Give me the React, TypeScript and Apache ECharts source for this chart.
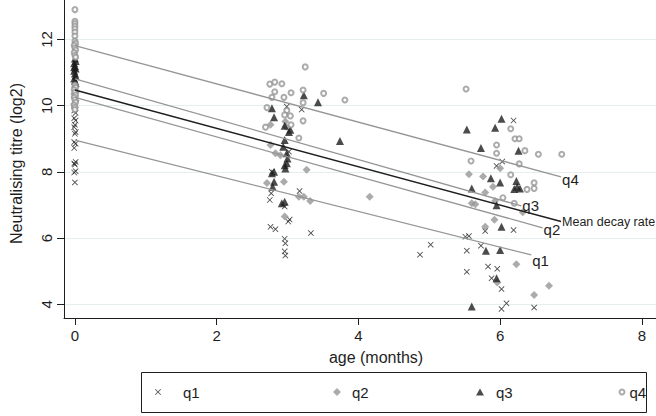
import React, { useEffect, useRef } from "react";
import * as echarts from "echarts";

// ---- data ----
const groupNames = ["q1", "q2", "q3", "q4"];

const q1Points = [
  [-0.01, 9.85], [0.01, 9.78], [-0.01, 9.62], [0.01, 9.55], [0, 9.42], [-0.01, 9.35], [0.01, 9.2], [0, 9.15],
  [-0.01, 8.9], [0.01, 8.85], [-0.01, 8.72], [0.01, 8.3], [-0.01, 8.25], [0, 8.22], [0.01, 8.02], [-0.01, 7.98], [0, 7.68],
  [2.99, 9.97], [3.2, 9.88], [3.02, 8.61], [2.78, 8.0], [2.75, 7.15], [2.77, 7.35], [3.17, 7.42], [2.96, 6.95],
  [3.01, 6.5], [3.03, 6.56], [2.76, 6.34], [2.83, 6.27], [3.33, 6.15], [2.96, 5.98], [2.97, 5.84], [2.96, 5.6], [2.97, 5.47],
  [4.87, 5.5], [5.02, 5.8],
  [6.19, 9.55], [6.03, 8.31], [5.95, 8.18], [5.79, 6.21], [6.19, 6.24], [5.51, 6.04], [5.56, 6.06], [5.53, 5.62],
  [5.73, 5.77], [5.53, 4.98], [5.83, 5.14], [5.96, 5.07], [5.88, 4.79], [6.02, 4.46], [6.09, 4.03], [6.02, 3.86], [6.48, 3.9],
];

const q2Points = [
  [0, 10.55], [0.01, 10.45], [-0.01, 10.35], [0, 10.25], [0.01, 10.15], [-0.01, 10.05], [0, 9.95], [0.01, 10.4],
  [2.76, 9.42], [2.97, 9.52], [2.98, 9.36], [2.76, 8.81], [2.83, 8.56], [2.9, 8.5], [3.27, 8.06], [2.71, 7.66],
  [2.95, 7.7], [3.16, 7.25], [3.23, 7.25], [3.32, 7.12], [2.96, 6.65], [4.16, 7.25],
  [5.56, 7.93], [5.76, 7.86], [6.0, 8.11], [5.9, 7.55], [5.6, 7.05], [5.65, 7.02], [5.79, 7.38], [5.93, 7.12],
  [6.32, 6.78], [5.92, 6.55], [5.79, 6.34], [6.23, 5.21], [5.96, 4.66], [6.69, 4.56], [6.48, 4.28],
];

const q3Points = [
  [0, 11.42], [0.01, 11.35], [-0.01, 11.28], [0, 11.2], [0.01, 11.12], [-0.01, 11.05], [0, 10.97], [0.01, 10.9],
  [-0.01, 10.82], [0, 10.75], [0.01, 10.68], [-0.01, 11.16],
  [3.23, 10.31], [3.43, 10.1], [2.78, 9.92], [2.81, 9.65], [2.96, 9.39], [3.04, 9.27], [3.02, 9.2], [3.74, 8.93],
  [2.96, 8.96], [2.94, 8.76], [2.99, 8.56], [3.0, 8.4], [2.96, 8.2], [2.99, 8.26], [2.97, 8.1], [2.81, 8.0],
  [2.78, 7.96], [2.81, 7.7], [2.79, 7.55], [2.92, 7.05], [2.96, 7.1],
  [6.02, 9.6], [5.53, 9.28], [5.93, 9.33], [5.73, 8.72], [6.26, 8.64], [5.87, 7.81], [6.0, 7.68], [6.23, 7.72],
  [6.24, 7.55], [6.28, 7.5], [6.2, 7.48], [5.6, 7.5], [5.95, 6.99], [6.02, 6.34], [5.8, 5.62], [6.0, 5.64],
  [5.95, 4.79], [5.6, 3.93],
];

const q4Points = [
  [0, 12.9], [0, 12.55], [0, 12.48], [0, 12.4], [0, 12.32], [0, 12.22], [0, 12.1], [0, 11.95], [0.01, 11.88],
  [-0.01, 11.82], [0, 11.75], [0.01, 11.68], [-0.01, 11.6], [0, 11.52], [0.01, 11.46], [0, 10.62], [0.01, 10.55],
  [-0.01, 10.48], [0, 10.4], [0.01, 10.32], [-0.01, 10.25], [0, 10.18], [0.01, 10.1], [-0.01, 10.02], [0, 9.95], [0, 9.88],
  [3.25, 11.17], [2.75, 10.65], [2.82, 10.71], [2.92, 10.66], [2.82, 10.42], [3.05, 10.39], [3.22, 10.47], [3.22, 10.09],
  [2.95, 10.25], [2.78, 10.25], [3.51, 10.37], [3.81, 10.17], [2.71, 9.94], [2.99, 9.85], [2.96, 9.72], [3.04, 9.69],
  [3.22, 9.54], [2.69, 9.35], [3.05, 9.42], [3.16, 9.02],
  [5.52, 10.5], [6.15, 9.3], [6.21, 9.0], [6.27, 9.0], [5.95, 8.81], [5.95, 8.56], [6.35, 8.64], [6.54, 8.53],
  [6.87, 8.53], [5.59, 8.33], [6.27, 8.24], [6.15, 7.91], [6.48, 7.67], [6.48, 7.5], [6.38, 7.47], [6.2, 7.05], [6.04, 7.22],
];

// fitted decay lines: [start, end]
const lineQ4 = [[0, 11.81], [6.86, 7.85]];
const lineQ3 = [[0, 10.81], [6.3, 6.97]];
const lineMean = [[0, 10.47], [6.86, 6.5]];
const lineQ2 = [[0, 10.25], [6.6, 6.31]];
const lineQ1 = [[0, 8.96], [6.44, 5.49]];
const lineLabels = ["q4", "q3", "Mean decay rate", "q2", "q1"];

const xTicks = [0, 2, 4, 6, 8];
const yTicks = [4, 6, 8, 10, 12];
const xTitle = "age (months)";
const yTitle = "Neutralising titre (log2)";

// ---- styles ----
const FONT = "'Liberation Sans', Arial, sans-serif";
const DARK = "#1e1e1e";
const GREY = "#969696";
const CROSS = "path://M1,0L5,4L9,0L10,1L6,5L10,9L9,10L5,6L1,10L0,9L4,5L0,1Z";
const DIAMOND = "path://M5,0L10,5L5,10L0,5Z";
const TRIANGLE = "path://M5,0L10,8.66L0,8.66Z";

export default function App() {
  const ref = useRef<HTMLDivElement>(null);

  useEffect(() => {
    if (!ref.current) return;
    const chart = echarts.init(ref.current, undefined, { renderer: "svg" });

    const lineSeries = (data: number[][], label: string, color: string, width: number, fontSize: number, offset: number[]) => ({
      type: "line",
      name: label + " line",
      data,
      symbol: "none",
      silent: true,
      lineStyle: { color, width },
      z: 3,
      endLabel: {
        show: true,
        formatter: label,
        color: DARK,
        fontSize,
        fontFamily: FONT,
        distance: 1,
        offset,
      },
    });

    const legendItem = (name: string, left: number, size: number, padLeft: number) => ({
      data: [name],
      left,
      top: 383,
      padding: 0,
      itemWidth: size,
      itemHeight: size,
      selectedMode: false,
      symbolKeepAspect: true,
      textStyle: { fontSize: 15, color: DARK, fontFamily: FONT, lineHeight: 18, padding: [0, 0, 0, padLeft] },
    });

    chart.setOption({
      animation: false,
      backgroundColor: "#ffffff",
      textStyle: { fontFamily: FONT },
      grid: { left: 58, right: 0, top: 0, bottom: 98 },
      xAxis: {
        type: "value",
        min: -0.154,
        max: 8.2,
        name: xTitle,
        nameLocation: "middle",
        nameGap: 31,
        nameTextStyle: { fontSize: 16, color: DARK, fontFamily: FONT, padding: [0, 0, 0, 32] },
        axisLine: { show: true, onZero: false, lineStyle: { color: DARK, width: 1 } },
        axisTick: { show: true, length: 7, customValues: xTicks, lineStyle: { color: DARK } },
        axisLabel: { customValues: xTicks, fontSize: 15, color: DARK, margin: 10, fontFamily: FONT },
        splitLine: { show: false },
      },
      yAxis: {
        type: "value",
        min: 3.586,
        max: 13.19,
        name: yTitle,
        nameLocation: "middle",
        nameGap: 40,
        nameTextStyle: { fontSize: 16, color: DARK, fontFamily: FONT, padding: [0, 9, 0, 0] },
        axisLine: { show: true, onZero: false, lineStyle: { color: DARK, width: 1 } },
        axisTick: { show: true, length: 7, customValues: yTicks, lineStyle: { color: DARK } },
        axisLabel: { customValues: yTicks, rotate: 90, fontSize: 15, color: DARK, margin: 10, fontFamily: FONT },
        splitLine: { show: true, lineStyle: { color: "#e6eff0", width: 1 } },
      },
      legend: [
        legendItem(groupNames[0], 155, 6, 17),
        legendItem(groupNames[1], 333, 8, 6),
        legendItem(groupNames[2], 476, 8, 7),
        legendItem(groupNames[3], 618.5, 5, 0),
      ],
      graphic: [
        {
          type: "rect",
          shape: { x: 141.5, y: 372.5, width: 505, height: 40 },
          style: { fill: "none", stroke: DARK, lineWidth: 1 },
          silent: true,
        },
      ],
      series: [
        { type: "scatter", name: groupNames[0], data: q1Points, symbol: CROSS, symbolSize: 6, itemStyle: { color: DARK }, z: 2 },
        { type: "scatter", name: groupNames[1], data: q2Points, symbol: DIAMOND, symbolSize: 8, itemStyle: { color: GREY }, z: 2 },
        { type: "scatter", name: groupNames[2], data: q3Points, symbol: TRIANGLE, symbolSize: 8, itemStyle: { color: DARK }, z: 2 },
        {
          type: "scatter", name: groupNames[3], data: q4Points, symbol: "emptyCircle", symbolSize: 5,
          itemStyle: { color: GREY, borderColor: GREY, borderWidth: 1.1 }, z: 2,
        },
        lineSeries(lineQ4, lineLabels[0], GREY, 1.3, 15, [0, 3]),
        lineSeries(lineQ3, lineLabels[1], GREY, 1.3, 15, [0, 0]),
        lineSeries(lineMean, lineLabels[2], DARK, 1.5, 12.5, [0, 0]),
        lineSeries(lineQ2, lineLabels[3], GREY, 1.3, 15, [0, 2]),
        lineSeries(lineQ1, lineLabels[4], GREY, 1.3, 15, [0, 6]),
      ],
    });

    return () => chart.dispose();
  }, []);

  return (
    <div
      ref={ref}
      style={{ position: "absolute", left: 0, top: 0, width: 656, height: 416, background: "#fff" }}
    />
  );
}
